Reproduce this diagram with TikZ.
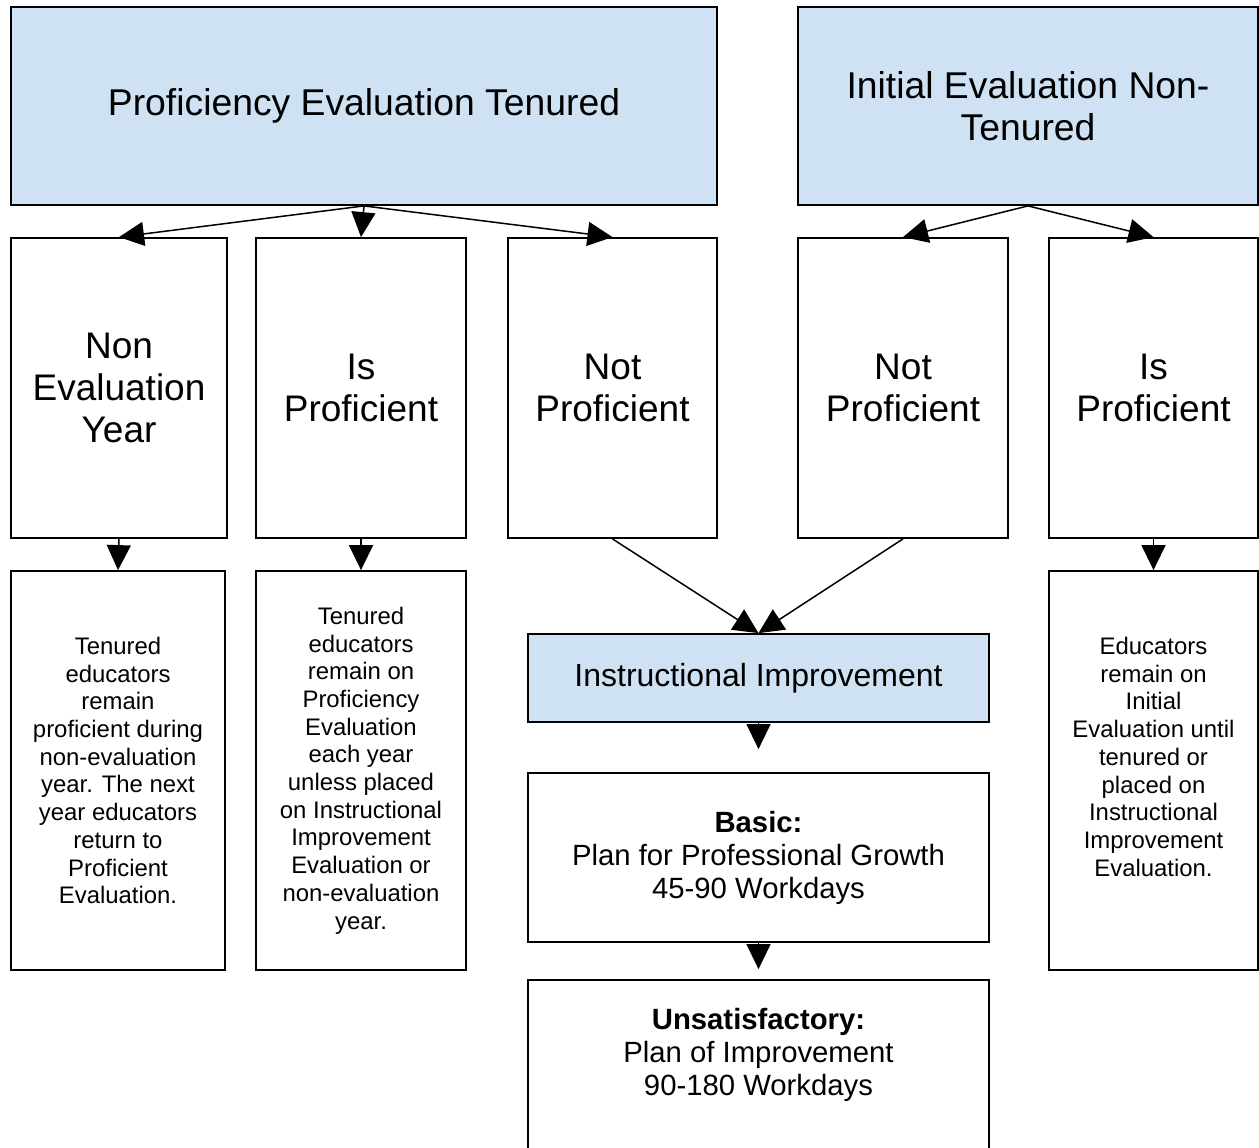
\documentclass[tikz,border=0pt]{standalone}
\usepackage{fontspec}
\setmainfont{Liberation Sans}
\usetikzlibrary{arrows.meta}
\definecolor{headblue}{HTML}{CFE2F3}

\begin{document}
\begin{tikzpicture}[x=1pt, y=-1pt,
    box/.style={draw, line width=1.8pt, align=center, inner sep=0pt},
    head/.style={box, fill=headblue},
    big/.style={font=\fontsize{37}{42}\selectfont},
    small/.style={font=\fontsize{23.9}{27.7}\selectfont},
    plan/.style={font=\fontsize{29.3}{33}\selectfont},
    link/.style={-{Triangle[length=25pt,width=24pt]}, line width=1.5pt}]
\useasboundingbox (0,0) rectangle (1259,1148);

            % Evaluation tracks
            \node[head, font=\fontsize{37.3}{42}\selectfont, minimum width=706pt, minimum height=198pt] (pet) at (364,106) {Proficiency Evaluation Tenured};
            \node[head, font=\fontsize{37.3}{42}\selectfont, minimum width=460pt, minimum height=198pt] (ient) at (1028,106) {Initial Evaluation Non-\\Tenured};

            % Outcomes
            \node[box, big, minimum width=216pt, minimum height=300pt] (nonEval) at (119,388) {Non\\Evaluation\\Year};
            \node[box, big, minimum width=210pt, minimum height=300pt] (isProfT) at (361,388) {Is\\Proficient};
            \node[box, big, minimum width=209pt, minimum height=300pt] (notProfT) at (612.5,388) {Not\\Proficient};
            \node[box, big, minimum width=210pt, minimum height=300pt] (notProfN) at (903,388) {Not\\Proficient};
            \node[box, big, minimum width=209pt, minimum height=300pt] (isProfN) at (1153.5,388) {Is\\Proficient};

            % Explanations
            \node[box, small, minimum width=214pt, minimum height=399pt] (nonEvalText) at (118,770.5) {Tenured\\educators\\remain\\proficient during\\non-evaluation\\year. The next\\year educators\\return to\\Proficient\\Evaluation.};
            \node[box, small, minimum width=210pt, minimum height=399pt] (isProfText) at (361,770.5) {Tenured\\educators\\remain on\\Proficiency\\Evaluation\\each year\\unless placed\\on Instructional\\Improvement\\Evaluation or\\non-evaluation\\year.};
            \node[box, small, minimum width=209pt, minimum height=399pt] (initText) at (1153.5,770.5) {Educators\\remain on\\Initial\\Evaluation until\\tenured or\\placed on\\Instructional\\Improvement\\Evaluation.\\ \mbox{}};

            % Instructional Improvement
            \node[head, font=\fontsize{32}{36}\selectfont, minimum width=461pt, minimum height=88pt] (instr) at (758.5,678) {Instructional Improvement};
            \node[box, plan, minimum width=461pt, minimum height=169pt] (basic) at (758.5,857.5) {\textbf{Basic:}\\Plan for Professional Growth\\45-90 Workdays};
            \node[box, plan, minimum width=461pt, minimum height=169pt] (unsat) at (758.5,1064.5) {\textbf{Unsatisfactory:}\\Plan of Improvement\\90-180 Workdays\\[-8pt] \mbox{}};

            % Arrows
            \draw[link] (pet.south) -- (nonEval.north);
            \draw[link] (pet.south) -- (isProfT.north);
            \draw[link] (pet.south) -- (notProfT.north);
            \draw[link] (ient.south) -- (notProfN.north);
            \draw[link] (ient.south) -- (isProfN.north);
            \draw[link] (nonEval.south) -- (nonEvalText.north);
            \draw[link] (isProfT.south) -- (isProfText.north);
            \draw[link] (isProfN.south) -- (initText.north);
            \draw[link] (notProfT.south) -- (instr.north);
            \draw[link] (notProfN.south) -- (instr.north);
            \draw[link, shorten >=23pt] (instr.south) -- (basic.north);
            \draw[link, shorten >=10pt] (basic.south) -- (unsat.north);

\end{tikzpicture}
\end{document}
